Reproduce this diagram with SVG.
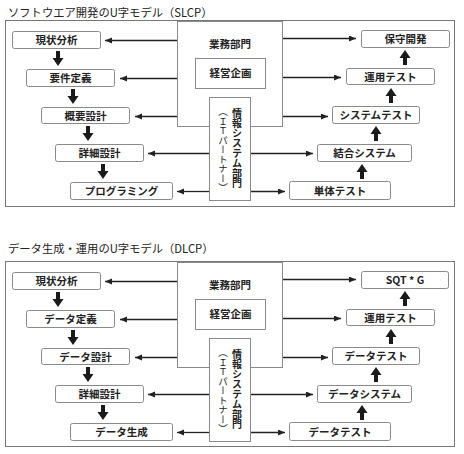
<svg xmlns="http://www.w3.org/2000/svg" width="464" height="454" viewBox="0 0 464 454">
<style>
.bg{fill:#fff}
.frame{fill:none;stroke:#777;stroke-width:1}
.box{fill:#fff;stroke:#8a8a8a;stroke-width:1}
.cbox{fill:#fff;stroke:#8a8a8a;stroke-width:1}
.lbl{font-family:"Noto Sans CJK JP","Noto Sans",sans-serif;font-size:10.5px;font-weight:bold;fill:#222;text-anchor:middle}
.ttl{font-family:"Noto Sans CJK JP","Noto Sans",sans-serif;font-size:11.3px;fill:#222}
.vt{font-family:"Noto Sans CJK JP",sans-serif;font-size:10px;font-weight:bold;fill:#222;writing-mode:vertical-rl}
.vt2{font-family:"Noto Sans CJK JP",sans-serif;font-size:9.5px;fill:#222;writing-mode:vertical-rl}
.ln{stroke:#222;stroke-width:1.3;fill:none;marker-end:url(#ah)}
.blk{fill:#1a1a1a}
</style>
<defs>
<marker id="ah" markerUnits="userSpaceOnUse" markerWidth="8" markerHeight="7" refX="7" refY="3" orient="auto">
<path d="M0,0 L7,3 L0,6 z" fill="#222"/>
</marker>
<path id="dn" d="M-2,0 h4 v7 h3.5 l-5.5,8 l-5.5,-8 h3.5 z"/>
<path id="up" d="M-2,15 h4 v-7 h3.5 l-5.5,-8 l-5.5,8 h3.5 z"/>
</defs>
<rect class="bg" x="0" y="0" width="464" height="454"/>

<!-- ===== SLCP ===== -->
<text class="ttl" x="8" y="16.5">ソフトウエア開発のU字モデル（SLCP）</text>
<rect class="frame" x="5.5" y="20.5" width="449" height="186"/>

<g id="slcp-business">
<rect class="cbox" x="177.5" y="21.5" width="105" height="105"/>
<text class="lbl" x="230" y="48">業務部門</text>
</g>
<g id="slcp-planning">
<rect class="cbox" x="195.5" y="58.5" width="70" height="30"/>
<text class="lbl" x="230.5" y="77">経営企画</text>
</g>
<g id="slcp-is">
<rect class="cbox" x="209.5" y="97.5" width="41" height="103"/>
<text class="vt" x="237" y="108">情報システム部門</text>
<text class="vt2" x="223" y="107">（ＩＴパートナー）</text>
</g>

<g id="slcp-n1"><rect class="box" x="12.5" y="31.5" width="88" height="17" rx="2"/><text class="lbl" x="56.5" y="44">現状分析</text></g>
<g id="slcp-n2"><rect class="box" x="26.5" y="69.5" width="88" height="17" rx="2"/><text class="lbl" x="70.5" y="82">要件定義</text></g>
<g id="slcp-n3"><rect class="box" x="41.5" y="107.5" width="88" height="16" rx="2"/><text class="lbl" x="85.5" y="119.5">概要設計</text></g>
<g id="slcp-n4"><rect class="box" x="55.5" y="144.5" width="88" height="17" rx="2"/><text class="lbl" x="99.5" y="157">詳細設計</text></g>
<g id="slcp-n5"><rect class="box" x="70.5" y="182.5" width="102" height="17" rx="2"/><text class="lbl" x="121.5" y="195">プログラミング</text></g>

<g id="slcp-m1"><rect class="box" x="361.5" y="30.5" width="88" height="17" rx="2"/><text class="lbl" x="405.5" y="43">保守開発</text></g>
<g id="slcp-m2"><rect class="box" x="346.5" y="68.5" width="88" height="16" rx="2"/><text class="lbl" x="390.5" y="80.5">運用テスト</text></g>
<g id="slcp-m3"><rect class="box" x="332.5" y="106.5" width="87" height="17" rx="2"/><text class="lbl" x="376" y="119">システムテスト</text></g>
<g id="slcp-m4"><rect class="box" x="317.5" y="144.5" width="94" height="17" rx="2"/><text class="lbl" x="364.5" y="157">結合システム</text></g>
<g id="slcp-m5"><rect class="box" x="289.5" y="181.5" width="101" height="18" rx="2"/><text class="lbl" x="340" y="194.5">単体テスト</text></g>

<g id="slcp-connectors">
<line class="ln" x1="177" y1="40.5" x2="105" y2="40.5"/>
<line class="ln" x1="177" y1="78.5" x2="120" y2="78.5"/>
<line class="ln" x1="177" y1="116.5" x2="135" y2="116.5"/>
<line class="ln" x1="209" y1="153.5" x2="148" y2="153.5"/>
<line class="ln" x1="209" y1="191.5" x2="177" y2="191.5"/>
<line class="ln" x1="283" y1="38.5" x2="356" y2="38.5"/>
<line class="ln" x1="283" y1="77.5" x2="341" y2="77.5"/>
<line class="ln" x1="283" y1="116.5" x2="328" y2="116.5"/>
<line class="ln" x1="251" y1="153.5" x2="313" y2="153.5"/>
<line class="ln" x1="251" y1="191.5" x2="285" y2="191.5"/>
<use href="#dn" class="blk" x="58" y="51"/>
<use href="#dn" class="blk" x="73" y="89"/>
<use href="#dn" class="blk" x="88" y="126"/>
<use href="#dn" class="blk" x="103" y="164"/>
<use href="#up" class="blk" x="405" y="50"/>
<use href="#up" class="blk" x="391" y="88"/>
<use href="#up" class="blk" x="376" y="126"/>
<use href="#up" class="blk" x="362" y="164"/>
</g>

<!-- ===== DLCP ===== -->
<text class="ttl" x="8" y="252.5">データ生成・運用のU字モデル（DLCP）</text>
<g transform="translate(0,241)">
<rect class="frame" x="5.5" y="20.5" width="449" height="185"/>

<g id="dlcp-business">
<rect class="cbox" x="177.5" y="21.5" width="105" height="105"/>
<text class="lbl" x="230" y="48">業務部門</text>
</g>
<g id="dlcp-planning">
<rect class="cbox" x="195.5" y="58.5" width="70" height="30"/>
<text class="lbl" x="230.5" y="77">経営企画</text>
</g>
<g id="dlcp-is">
<rect class="cbox" x="209.5" y="97.5" width="41" height="103"/>
<text class="vt" x="237" y="108">情報システム部門</text>
<text class="vt2" x="223" y="107">（ＩＴパートナー）</text>
</g>

<g id="dlcp-n1"><rect class="box" x="12.5" y="31.5" width="88" height="17" rx="2"/><text class="lbl" x="56.5" y="44">現状分析</text></g>
<g id="dlcp-n2"><rect class="box" x="26.5" y="69.5" width="88" height="17" rx="2"/><text class="lbl" x="70.5" y="82">データ定義</text></g>
<g id="dlcp-n3"><rect class="box" x="41.5" y="107.5" width="88" height="16" rx="2"/><text class="lbl" x="85.5" y="119.5">データ設計</text></g>
<g id="dlcp-n4"><rect class="box" x="55.5" y="144.5" width="88" height="17" rx="2"/><text class="lbl" x="99.5" y="157">詳細設計</text></g>
<g id="dlcp-n5"><rect class="box" x="70.5" y="182.5" width="102" height="17" rx="2"/><text class="lbl" x="121.5" y="195">データ生成</text></g>

<g id="dlcp-m1"><rect class="box" x="361.5" y="30.5" width="87" height="17" rx="2"/><text class="lbl" x="405" y="43">SQT * G</text></g>
<g id="dlcp-m2"><rect class="box" x="346.5" y="68.5" width="88" height="16" rx="2"/><text class="lbl" x="390.5" y="80.5">運用テスト</text></g>
<g id="dlcp-m3"><rect class="box" x="332.5" y="106.5" width="87" height="17" rx="2"/><text class="lbl" x="376" y="119">データテスト</text></g>
<g id="dlcp-m4"><rect class="box" x="317.5" y="144.5" width="94" height="17" rx="2"/><text class="lbl" x="364.5" y="157">データシステム</text></g>
<g id="dlcp-m5"><rect class="box" x="289.5" y="181.5" width="101" height="18" rx="2"/><text class="lbl" x="340" y="194.5">データテスト</text></g>

<g id="dlcp-connectors">
<line class="ln" x1="177" y1="40.5" x2="105" y2="40.5"/>
<line class="ln" x1="177" y1="78.5" x2="120" y2="78.5"/>
<line class="ln" x1="177" y1="116.5" x2="135" y2="116.5"/>
<line class="ln" x1="209" y1="153.5" x2="148" y2="153.5"/>
<line class="ln" x1="209" y1="191.5" x2="177" y2="191.5"/>
<line class="ln" x1="283" y1="38.5" x2="356" y2="38.5"/>
<line class="ln" x1="283" y1="77.5" x2="341" y2="77.5"/>
<line class="ln" x1="283" y1="116.5" x2="328" y2="116.5"/>
<line class="ln" x1="251" y1="153.5" x2="313" y2="153.5"/>
<line class="ln" x1="251" y1="191.5" x2="285" y2="191.5"/>
<use href="#dn" class="blk" x="58" y="51"/>
<use href="#dn" class="blk" x="73" y="89"/>
<use href="#dn" class="blk" x="88" y="126"/>
<use href="#dn" class="blk" x="103" y="164"/>
<use href="#up" class="blk" x="405" y="50"/>
<use href="#up" class="blk" x="391" y="88"/>
<use href="#up" class="blk" x="376" y="126"/>
<use href="#up" class="blk" x="362" y="164"/>
</g>
</g>
</svg>
